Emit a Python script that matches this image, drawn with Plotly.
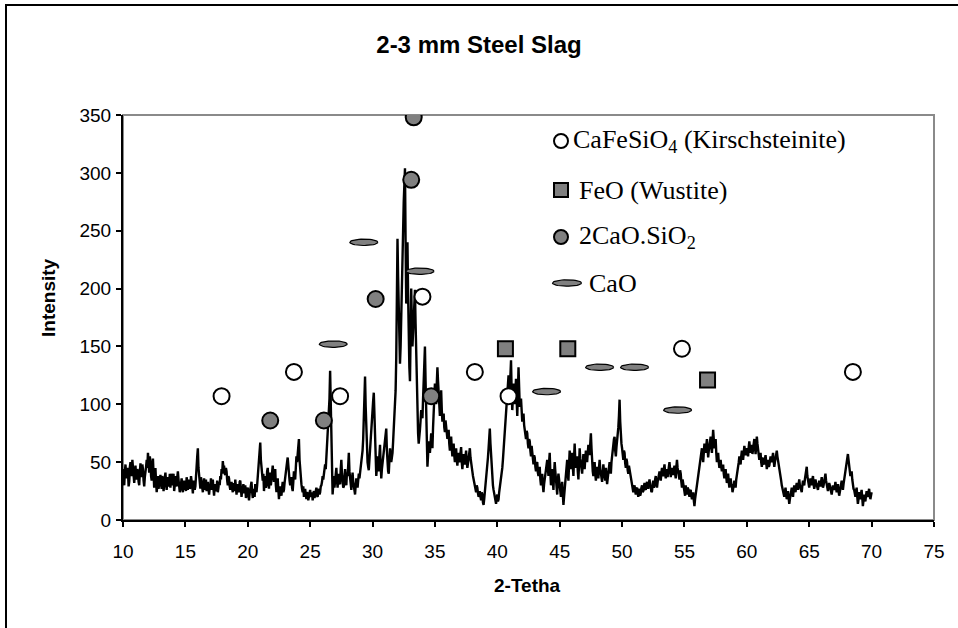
import numpy as np
import plotly.graph_objects as go

# ---------------------------------------------------------------------------
# XRD diffractogram of 2-3 mm steel slag (scan 10-70 deg 2-theta, 0.05 deg step)
# ---------------------------------------------------------------------------
scan_start = 10.0
scan_step = 0.05
intensity = [
    44, 36, 30, 42, 48, 39, 36, 45, 41, 29, 33, 46, 50, 40, 38, 52, 45, 35, 32, 40,          # 10
    47, 38, 35, 44, 42, 33, 30, 41, 49, 43, 37, 48, 44, 34, 29, 37, 40, 46, 52, 45,          # 11
    58, 47, 41, 55, 50, 38, 34, 46, 53, 40, 28, 36, 45, 33, 24, 30, 38, 27, 31, 36,          # 12
    39, 31, 27, 38, 35, 25, 30, 36, 41, 33, 26, 34, 37, 29, 32, 40, 28, 35, 40, 30,          # 13
    33, 40, 25, 30, 38, 32, 29, 37, 42, 35, 31, 24, 27, 33, 36, 28, 24, 31, 34, 26,          # 14
    30, 25, 37, 32, 26, 35, 33, 27, 28, 38, 35, 29, 23, 34, 31, 26, 29, 35, 46, 55,          # 15
    62, 45, 38, 30, 27, 37, 34, 28, 24, 32, 36, 26, 29, 35, 25, 31, 33, 27, 22, 28,          # 16
    30, 36, 26, 32, 35, 27, 21, 29, 31, 25, 27, 34, 24, 28, 33, 30, 38, 35, 44, 40,          # 17
    51, 45, 47, 40, 39, 45, 42, 34, 30, 38, 36, 29, 26, 31, 33, 27, 24, 32, 29, 25,          # 18
    35, 28, 22, 29, 31, 24, 25, 33, 34, 27, 20, 26, 27, 31, 23, 28, 30, 19, 21, 26,          # 19
    28, 22, 17, 23, 26, 31, 33, 24, 19, 27, 25, 20, 31, 27, 24, 30, 37, 42, 50, 58,          # 20
    67, 52, 44, 37, 34, 40, 25, 33, 38, 28, 30, 42, 45, 36, 27, 35, 41, 30, 35, 43,          # 21
    47, 40, 33, 39, 44, 30, 24, 31, 36, 26, 18, 25, 29, 23, 21, 28, 33, 24, 26, 32,          # 22
    38, 44, 46, 50, 54, 45, 40, 34, 30, 35, 37, 28, 25, 33, 42, 38, 35, 45, 55, 50,          # 23
    60, 66, 70, 52, 43, 36, 31, 27, 24, 29, 20, 25, 27, 22, 18, 24, 23, 17, 19, 23,          # 24
    26, 20, 21, 24, 17, 22, 25, 19, 22, 26, 28, 21, 20, 25, 27, 22, 24, 29, 30, 33,          # 25
    38, 35, 42, 46, 48, 44, 55, 60, 68, 76, 88, 105, 129, 95, 60, 30, 22, 30, 38, 28,        # 26
    33, 38, 45, 34, 28, 36, 40, 32, 31, 44, 52, 40, 35, 28, 29, 37, 44, 35, 30, 41,          # 27
    38, 47, 58, 42, 34, 30, 26, 35, 41, 33, 30, 25, 22, 30, 36, 31, 28, 34, 40, 36,          # 28
    40, 44, 48, 55, 60, 70, 85, 104, 124, 98, 75, 60, 50, 46, 43, 52, 62, 70, 78, 86,        # 29
    95, 103, 110, 90, 70, 50, 38, 45, 55, 47, 42, 56, 65, 48, 36, 44, 50, 56, 62, 66,        # 30
    70, 74, 79, 60, 48, 42, 40, 52, 62, 55, 50, 54, 58, 68, 80, 86, 95, 112, 140, 190,       # 31
    243, 210, 175, 150, 135, 150, 170, 195, 220, 250, 275, 290, 304, 240, 187, 215, 240, 195, 150, 132,  # 32
    120, 165, 200, 172, 150, 162, 175, 188, 199, 170, 140, 112, 90, 75, 66, 70, 78, 86, 95, 90,          # 33
    88, 105, 120, 138, 150, 120, 90, 65, 46, 56, 68, 62, 58, 66, 75, 68, 62, 80, 95, 108,    # 34
    118, 108, 100, 118, 132, 120, 108, 96, 90, 102, 112, 95, 85, 89, 92, 80, 76, 86, 82, 74, # 35
    70, 74, 78, 66, 60, 67, 72, 62, 55, 60, 66, 56, 50, 57, 62, 52, 47, 54, 58, 50,          # 36
    52, 58, 63, 50, 44, 51, 57, 50, 48, 55, 60, 50, 45, 49, 55, 58, 62, 54, 48, 45,          # 37
    42, 38, 35, 32, 30, 26, 24, 30, 28, 23, 20, 22, 25, 20, 17, 24, 22, 15, 13, 18,          # 38
    24, 27, 30, 38, 45, 54, 62, 72, 79, 66, 55, 44, 35, 30, 26, 22, 20, 17, 14, 19,          # 39
    22, 16, 18, 24, 28, 31, 35, 40, 45, 52, 60, 70, 80, 92, 100, 106, 112, 118, 125, 115,    # 40
    108, 125, 138, 110, 95, 106, 118, 108, 100, 112, 122, 104, 90, 110, 132, 115, 98, 100, 105, 92,  # 41
    85, 88, 92, 82, 78, 74, 70, 77, 75, 66, 62, 70, 68, 60, 55, 64, 60, 52, 48, 56,          # 42
    54, 46, 42, 49, 50, 41, 38, 44, 46, 35, 30, 37, 40, 30, 24, 31, 35, 41, 45, 48,          # 43
    52, 45, 38, 50, 58, 42, 30, 37, 44, 33, 26, 40, 50, 42, 35, 28, 22, 34, 40, 35,          # 44
    30, 24, 20, 27, 33, 22, 13, 20, 28, 33, 38, 46, 52, 40, 34, 48, 60, 50, 44, 52,          # 45
    58, 46, 38, 54, 66, 52, 45, 50, 55, 42, 35, 48, 62, 53, 48, 42, 40, 49, 57, 50,          # 46
    44, 53, 60, 54, 50, 58, 65, 60, 56, 66, 75, 62, 48, 42, 38, 45, 50, 40, 34, 41,          # 47
    46, 40, 36, 45, 52, 44, 40, 35, 33, 41, 48, 42, 38, 34, 45, 37, 31, 36, 42, 47,          # 48
    50, 44, 40, 50, 58, 62, 65, 70, 72, 60, 55, 63, 68, 75, 80, 90, 104, 85, 70, 66,         # 49
    62, 56, 52, 60, 58, 49, 45, 53, 50, 43, 40, 47, 44, 38, 35, 32, 30, 26, 24, 28,          # 50
    30, 25, 22, 27, 28, 23, 20, 24, 27, 21, 23, 28, 30, 24, 25, 29, 32, 27, 26, 30,          # 51
    33, 29, 27, 32, 35, 30, 29, 24, 25, 31, 34, 28, 30, 35, 38, 31, 28, 33, 36, 40,          # 52
    42, 37, 34, 41, 45, 39, 38, 44, 48, 41, 36, 40, 44, 37, 40, 46, 50, 42, 37, 41,          # 53
    45, 41, 39, 44, 47, 40, 36, 46, 52, 45, 42, 38, 35, 43, 40, 33, 28, 35, 32, 27,          # 54
    25, 21, 30, 26, 22, 28, 27, 23, 20, 25, 26, 21, 18, 22, 24, 17, 12, 18, 22, 25,          # 55
    28, 32, 35, 40, 44, 50, 55, 59, 62, 55, 50, 58, 66, 61, 58, 64, 70, 62, 54, 60,          # 56
    65, 70, 72, 63, 58, 68, 78, 70, 62, 66, 70, 58, 50, 55, 58, 50, 45, 48, 52, 46,          # 57
    42, 45, 48, 40, 36, 41, 44, 37, 32, 36, 40, 33, 28, 32, 36, 31, 30, 24, 26, 30,          # 58
    34, 31, 28, 35, 38, 42, 45, 50, 55, 51, 48, 55, 60, 56, 52, 58, 64, 60, 56, 59,          # 59
    62, 58, 55, 63, 68, 62, 58, 61, 65, 57, 60, 66, 70, 62, 57, 64, 72, 66, 60, 56,          # 60
    52, 55, 58, 50, 46, 51, 54, 49, 48, 53, 56, 50, 44, 48, 52, 46, 47, 51, 55, 52,          # 61
    50, 54, 58, 51, 46, 50, 54, 57, 60, 55, 52, 48, 45, 41, 38, 34, 30, 27, 24, 22,          # 62
    20, 24, 28, 22, 18, 21, 25, 19, 14, 18, 22, 25, 28, 23, 20, 26, 30, 27, 24, 29,          # 63
    32, 29, 26, 31, 35, 30, 28, 26, 24, 30, 34, 31, 30, 35, 38, 42, 46, 38, 33, 30,          # 64
    28, 32, 36, 33, 30, 35, 38, 31, 27, 30, 35, 32, 31, 28, 26, 30, 34, 31, 29, 33,          # 65
    37, 32, 28, 30, 33, 36, 40, 34, 30, 27, 25, 29, 32, 30, 27, 24, 22, 26, 30, 28,          # 66
    26, 29, 33, 28, 24, 27, 31, 25, 21, 24, 28, 31, 34, 30, 26, 31, 35, 38, 42, 46,          # 67
    50, 54, 57, 52, 48, 43, 38, 40, 42, 35, 30, 27, 26, 22, 20, 24, 28, 20, 14, 18,          # 68
    24, 21, 18, 23, 26, 19, 12, 17, 22, 19, 16, 21, 25, 22, 20, 24, 27, 22, 18, 21,          # 69
    24,                                                                                      # 70
]
two_theta = [round(scan_start + i * scan_step, 2) for i in range(len(intensity))]

# Phase identification markers (2-theta position, label height)
kirsch_2t = [17.9, 23.7, 27.4, 34.0, 38.2, 40.9, 54.8, 68.5]
kirsch_i = [107, 128, 107, 193, 128, 107, 148, 128]
wustite_2t = [40.65, 45.65, 56.85]
wustite_i = [148, 148, 121]
c2s_2t = [21.8, 26.1, 30.25, 33.1, 33.3, 34.7]
c2s_i = [86, 86, 191, 294, 348, 107]
cao_2t = [26.85, 29.3, 33.8, 43.95, 48.2, 51.0, 54.45]
cao_i = [152, 240, 215, 111, 132, 132, 95]

phase_labels = [
    "CaFeSiO<sub>4</sub> (Kirschsteinite)",
    "FeO (Wustite)",
    "2CaO.SiO<sub>2</sub>",
    "CaO",
]

x_ticks = list(range(10, 80, 5))
y_ticks = list(range(0, 400, 50))

# ---------------------------------------------------------------------------
# Geometry
# ---------------------------------------------------------------------------
W, H = 958, 628
ML, MR, MT, MB = 123, 24, 115, 108
PW, PH = W - ML - MR, H - MT - MB
XR, YR = [10, 75], [0, 350]

GRAY = "#808080"
SANS = "Liberation Sans, Arial, sans-serif"
SERIF = "Liberation Serif, Times New Roman, serif"


def fx(px):
    """pixel column -> paper fraction"""
    return (px - ML) / PW


def fy(py):
    """pixel row -> paper fraction"""
    return (H - MB - py) / PH


def ellipse_paths(cx, cy, a, b, n=40):
    t = np.linspace(0, 2 * np.pi, n)
    xs, ys = [], []
    for x0, y0 in zip(cx, cy):
        xs += list(x0 + a * np.cos(t)) + [None]
        ys += list(y0 + b * np.sin(t)) + [None]
    return xs, ys


# flat CaO ellipse: ~28 x 6.4 px, expressed in data units
a_dat = 14.0 * (XR[1] - XR[0]) / PW
b_dat = 3.2 * (YR[1] - YR[0]) / PH
cao_x, cao_y = ellipse_paths(cao_2t, cao_i, a_dat, b_dat)

fig = go.Figure()

fig.add_trace(go.Scatter(
    x=two_theta, y=intensity, mode="lines",
    line=dict(color="black", width=2.4), showlegend=False, hoverinfo="skip",
))

fig.add_trace(go.Scatter(
    x=cao_x, y=cao_y, mode="lines", fill="toself", fillcolor=GRAY,
    line=dict(color="black", width=1.2), showlegend=False, hoverinfo="skip",
))
fig.add_trace(go.Scatter(
    x=kirsch_2t, y=kirsch_i, mode="markers", showlegend=False,
    marker=dict(symbol="circle", size=16, color="white",
                line=dict(color="black", width=2)),
))
fig.add_trace(go.Scatter(
    x=wustite_2t, y=wustite_i, mode="markers", showlegend=False,
    marker=dict(symbol="square", size=15, color=GRAY,
                line=dict(color="black", width=2)),
))
fig.add_trace(go.Scatter(
    x=c2s_2t, y=c2s_i, mode="markers", showlegend=False,
    marker=dict(symbol="circle", size=16, color=GRAY,
                line=dict(color="black", width=2)),
))

# ---------------------------------------------------------------------------
# Key (drawn on an overlay axis spanning the plot area in 0..1 units)
# ---------------------------------------------------------------------------
key_rows = [141, 190, 237, 283]
key_sym_x = 561
fig.add_trace(go.Scatter(
    x=[fx(key_sym_x)], y=[fy(key_rows[0])], mode="markers", xaxis="x3", yaxis="y3",
    showlegend=False, hoverinfo="skip",
    marker=dict(symbol="circle", size=14, color="white", line=dict(color="black", width=2)),
))
fig.add_trace(go.Scatter(
    x=[fx(key_sym_x)], y=[fy(key_rows[1])], mode="markers", xaxis="x3", yaxis="y3",
    showlegend=False, hoverinfo="skip",
    marker=dict(symbol="square", size=14, color=GRAY, line=dict(color="black", width=2)),
))
fig.add_trace(go.Scatter(
    x=[fx(key_sym_x)], y=[fy(key_rows[2])], mode="markers", xaxis="x3", yaxis="y3",
    showlegend=False, hoverinfo="skip",
    marker=dict(symbol="circle", size=14, color=GRAY, line=dict(color="black", width=2)),
))
kx, ky = ellipse_paths([fx(567)], [fy(key_rows[3])], 14.5 / PW, 3.2 / PH)
fig.add_trace(go.Scatter(
    x=kx, y=ky, mode="lines", fill="toself", fillcolor=GRAY, xaxis="x3", yaxis="y3",
    line=dict(color="black", width=1.2), showlegend=False, hoverinfo="skip",
))

key_text_x = [571, 577, 577, 587]
annotations = []
for lbl, tx, row in zip(phase_labels, key_text_x, key_rows):
    annotations.append(dict(
        text=lbl, x=fx(tx), y=fy(row), xref="paper", yref="paper",
        xanchor="left", yanchor="middle", showarrow=False,
        font=dict(family=SERIF, size=26, color="black"),
    ))

annotations.append(dict(
    text="<b>Intensity</b>", x=fx(48), y=fy(298), xref="paper", yref="paper",
    textangle=-90, showarrow=False, xanchor="center", yanchor="middle",
    font=dict(family=SANS, size=19, color="black"),
))
annotations.append(dict(
    text="<b>2-Tetha</b>", x=fx(527), y=fy(585), xref="paper", yref="paper",
    showarrow=False, xanchor="center", yanchor="middle",
    font=dict(family=SANS, size=19, color="black"),
))

shapes = [
    # gray plot-area frame (top and right edges remain visible)
    dict(type="rect", xref="x domain", yref="y domain", x0=0, x1=1, y0=0, y1=1,
         line=dict(color="#8a8a8a", width=2), layer="below"),
    # outer chart frame
    dict(type="path", xref="paper", yref="paper",
         path=f"M {fx(6)} {fy(700)} L {fx(6)} {fy(5)} L {fx(1000)} {fy(5)}",
         line=dict(color="black", width=2)),
]

axis_common = dict(showgrid=False, zeroline=False, ticks="outside", ticklen=5,
                   tickwidth=1.5, tickcolor="black", showline=True,
                   linecolor="black", linewidth=2,
                   tickfont=dict(family=SANS, size=19, color="black"))

fig.update_layout(
    width=W, height=H,
    margin=dict(l=ML, r=MR, t=MT, b=MB, pad=0),
    paper_bgcolor="white", plot_bgcolor="white",
    showlegend=False,
    title=dict(text="<b>2-3 mm Steel Slag</b>", xref="container", x=0.5,
               y=1 - 45 / H, yref="container", xanchor="center", yanchor="middle",
               font=dict(family=SANS, size=24, color="black")),
    xaxis=dict(range=XR, tickvals=x_ticks, ticklabelstandoff=8, **axis_common),
    yaxis=dict(range=YR, tickvals=y_ticks, ticklabelstandoff=1, **axis_common),
    # inner halves of the crossing tick marks
    xaxis2=dict(overlaying="x", anchor="y", range=XR, tickvals=x_ticks, ticks="inside",
                ticklen=4, tickwidth=1.5, tickcolor="black", showticklabels=False,
                showline=False, showgrid=False, zeroline=False),
    yaxis2=dict(overlaying="y", anchor="x", range=YR, tickvals=y_ticks, ticks="inside",
                ticklen=3, tickwidth=1.5, tickcolor="black", showticklabels=False,
                showline=False, showgrid=False, zeroline=False, side="left"),
    xaxis3=dict(overlaying="x", anchor="y3", range=[0, 1], visible=False),
    yaxis3=dict(overlaying="y", anchor="x3", range=[0, 1], visible=False),
    annotations=annotations,
    shapes=shapes,
)

fig.write_html("out.html")
